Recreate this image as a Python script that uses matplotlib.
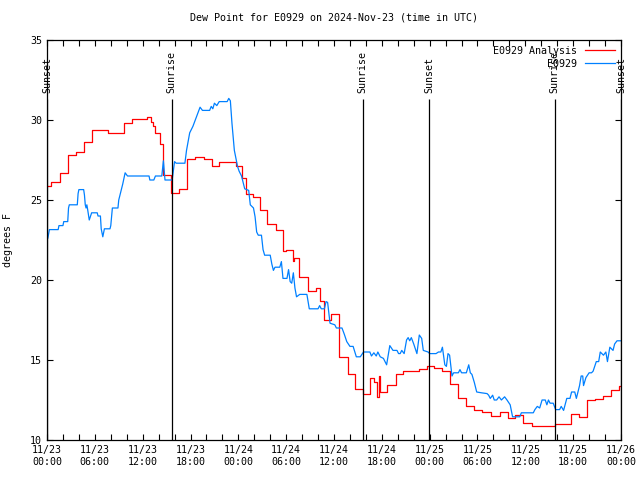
import numpy as np
import matplotlib
matplotlib.use("Agg")
import matplotlib.pyplot as plt

# hours since 2024-11-23 00:00 UTC
# analysis (stepped, value holds until next time)
ana_t = [0, 0.55, 1.6, 2.6, 3.6, 4.6, 5.6, 6.5, 7.6, 9.6, 10.6, 12.6, 13.1, 13.3,
         13.6, 14.2, 14.6, 15.6, 16.5, 17.6, 18.6, 19.7, 20.7, 21.6, 23.7, 24.5,
         25.0, 25.8, 26.7, 27.6, 28.7, 29.6, 30.0, 30.8, 31.0, 31.6, 32.7, 33.7,
         34.2, 34.7, 35.6, 36.6, 37.8, 38.6, 39.7, 40.5, 41.0, 41.4, 41.6, 41.8,
         42.6, 43.8, 44.7, 45.6, 46.7, 47.7, 48.5, 49.6, 50.6, 51.6, 52.6, 53.6,
         54.6, 55.7, 56.8, 57.8, 58.7, 59.7, 60.8, 62.7, 63.7, 65.7, 66.7, 67.7,
         68.7, 69.8, 70.8, 71.8, 72.0]
ana_v = [25.9, 26.1, 26.7, 27.8, 28.0, 28.6, 29.35, 29.4, 29.2, 29.8, 30.05, 30.2,
         29.9, 29.6, 29.2, 28.5, 26.55, 25.45, 25.7, 27.55, 27.7, 27.55, 27.1, 27.4,
         27.1, 26.4, 25.4, 25.2, 24.4, 23.5, 23.1, 21.8, 21.9, 21.2, 21.35, 20.2,
         19.3, 19.5, 18.7, 17.5, 17.9, 15.2, 14.1, 13.2, 12.85, 13.9, 13.65, 12.7,
         14.0, 13.0, 13.45, 14.1, 14.33, 14.3, 14.42, 14.6, 14.5, 14.3, 13.5, 12.6,
         12.15, 11.9, 11.75, 11.5, 11.75, 11.4, 11.55, 11.05, 10.85, 10.9, 11.0,
         11.6, 11.45, 12.5, 12.55, 12.75, 13.1, 13.35, 13.4]

# station observations
obs_t = [0.0, 0.1, 0.3, 1.4, 1.5, 2.0, 2.1, 2.6, 2.7, 2.8, 3.8, 3.9, 4.0, 4.6, 4.7,
         4.8, 4.9, 5.0, 5.1, 5.3, 5.6, 6.3, 6.4, 6.7, 6.8, 7.0, 7.2, 7.9, 8.0, 8.2,
         8.9, 9.0, 9.3, 9.5, 9.8, 10.1, 12.8, 12.9, 13.4, 13.6, 14.4, 14.6, 14.8,
         15.7, 16.0, 16.2, 17.3, 17.5, 17.9, 18.3, 18.6, 18.9, 19.2, 19.5, 20.4,
         20.6, 20.8, 21.0, 21.3, 21.6, 22.6, 22.8, 23.0, 23.2, 23.5, 23.9, 24.1,
         24.4, 24.6, 24.8, 25.3, 25.5, 25.9, 26.1, 26.3, 26.5, 26.9, 27.1, 27.3,
         28.0, 28.2, 28.4, 28.6, 29.2, 29.4, 29.6, 30.1, 30.3, 30.5, 30.7, 30.9,
         31.1, 31.3, 31.7, 32.6, 32.9, 34.0, 34.2, 34.4, 34.8, 35.0, 35.2, 35.5,
         36.1, 36.3, 37.0, 37.3, 37.6, 38.0, 38.4, 38.8, 39.3, 39.7, 40.5, 40.7,
         41.0, 41.3, 41.5, 41.8, 42.2, 42.6, 43.0, 43.4, 43.9, 44.1, 44.3, 44.5,
         44.8, 45.1, 45.3, 45.5, 45.7, 46.0, 46.4, 46.7, 47.0, 47.2, 47.8, 48.0,
         48.8, 49.1, 49.4, 49.6, 49.9, 50.1, 50.3, 50.5, 50.8, 51.0, 51.6, 51.8,
         52.0, 52.6, 52.9, 53.1, 53.3, 53.6, 53.9, 54.5, 55.2, 55.4, 55.6, 55.9,
         56.1, 56.4, 56.7, 57.0, 57.4, 57.7, 58.1, 58.4, 59.3, 59.5, 61.0, 61.2,
         61.5, 61.8, 62.1, 62.5, 62.7, 62.9, 63.1, 63.5, 63.8, 64.3, 64.5, 64.8,
         65.2, 65.6, 65.8, 66.2, 66.4, 66.8, 67.0, 67.2, 67.3, 67.6, 68.0, 68.3,
         68.5, 68.9, 69.2, 69.4, 69.8, 70.1, 70.3, 70.6, 71.0, 71.2, 71.5, 72.0]
obs_v = [23.2, 22.6, 23.15, 23.15, 23.4, 23.4, 23.65, 23.65, 24.5, 24.7, 24.7, 25.4,
         25.65, 25.65, 25.3, 24.7, 24.5, 24.7, 24.4, 23.75, 24.2, 24.2, 24.0, 24.0,
         23.2, 22.7, 23.2, 23.2, 23.4, 24.5, 24.5, 25.0, 25.6, 26.0, 26.7, 26.5,
         26.5, 26.25, 26.25, 26.5, 26.5, 27.45, 26.25, 26.25, 27.4, 27.3, 27.3,
         28.1, 29.2, 29.6, 30.0, 30.4, 30.8, 30.6, 30.6, 30.85, 30.7, 31.05, 30.9,
         31.15, 31.15, 31.35, 31.2, 29.8, 28.1, 27.1, 26.8, 26.5, 26.1, 25.7, 25.6,
         24.7, 24.5, 23.95, 23.0, 22.8, 22.8, 21.9, 21.55, 21.55, 21.0, 20.6, 20.8,
         20.8, 21.15, 20.1, 20.1, 20.65, 19.9, 19.8, 20.45, 19.5, 18.95, 19.1, 19.1,
         18.2, 18.2, 18.4, 18.2, 18.2, 18.65, 18.6, 17.3, 17.2, 17.0, 17.0, 16.6,
         16.15, 15.85, 15.85, 15.2, 15.2, 15.5, 15.5, 15.25, 15.45, 15.25, 15.5,
         15.2, 15.1, 14.7, 15.9, 15.6, 15.6, 15.4, 15.4, 15.6, 15.4, 16.25, 16.4,
         16.2, 16.4, 16.0, 15.4, 16.56, 16.35, 15.6, 15.5, 15.4, 15.4, 15.5, 15.5,
         15.8, 14.7, 14.6, 15.4, 15.3, 14.0, 14.2, 14.2, 14.4, 14.2, 14.2, 14.7,
         14.2, 14.1, 13.6, 13.0, 12.95, 12.9, 12.8, 12.6, 12.8, 12.5, 12.5, 12.7,
         12.5, 12.7, 12.5, 12.2, 11.45, 11.45, 11.7, 11.7, 11.9, 12.1, 12.0, 12.5,
         12.5, 12.2, 12.5, 12.3, 12.3, 11.9, 11.9, 12.1, 11.85, 12.6, 12.6, 13.0,
         13.0, 12.6, 13.4, 14.0, 14.0, 13.4, 13.9, 14.2, 14.2, 14.3, 14.9, 14.9,
         15.5, 15.3, 15.5, 14.9, 15.8, 15.6, 16.0, 16.2, 16.2]

sun_t = [0.0, 15.65, 39.6, 47.95, 63.7, 72.0]
sun_lbl = ["Sunset", "Sunrise", "Sunrise", "Sunset", "Sunrise", "Sunset"]

xtick_lbl = ["11/23\n00:00", "11/23\n06:00", "11/23\n12:00", "11/23\n18:00",
             "11/24\n00:00", "11/24\n06:00", "11/24\n12:00", "11/24\n18:00",
             "11/25\n00:00", "11/25\n06:00", "11/25\n12:00", "11/25\n18:00",
             "11/26\n00:00"]

plt.rcParams['font.family'] = ['DejaVu Sans Mono']
fs = 7.2

fig = plt.figure(figsize=(6.4, 4.8), dpi=100)
ax = fig.add_axes([47/640, 40/480, 574/640, 400/480])

ax.plot(ana_t, ana_v, drawstyle='steps-post', color='#ff0000', lw=0.9, label='E0929 Analysis')
ax.plot(obs_t, obs_v, color='#0080ff', lw=0.9, label='E0929')

for t, s in zip(sun_t, sun_lbl):
    ax.vlines(t, 10, 31.3, color='black', lw=0.9)
    ax.text(t, 31.7, s, rotation=90, ha='center', va='bottom', fontsize=fs)

ax.set_xlim(0, 72)
ax.set_ylim(10, 35)
ax.set_xticks(np.arange(0, 73, 6))
ax.set_xticklabels(xtick_lbl, fontsize=fs, linespacing=1.3)
ax.set_xticks(np.arange(0, 73, 2), minor=True)
ax.set_yticks(np.arange(10, 36, 5))
ax.tick_params(axis='y', labelsize=fs)
ax.tick_params(which='both', direction='in', top=True, right=True, length=4, width=0.8)
ax.set_ylabel('degrees F', fontsize=fs, labelpad=12)
ax.set_title('Dew Point for E0929 on 2024-Nov-23 (time in UTC)', fontsize=fs, pad=14)
for sp in ax.spines.values():
    sp.set_linewidth(0.9)

ax.legend(loc='upper right', frameon=False, markerfirst=False, fontsize=fs,
          handlelength=3.0, borderaxespad=0.2, labelspacing=0.3, handletextpad=0.8)

fig.savefig('out.png', dpi=100)
